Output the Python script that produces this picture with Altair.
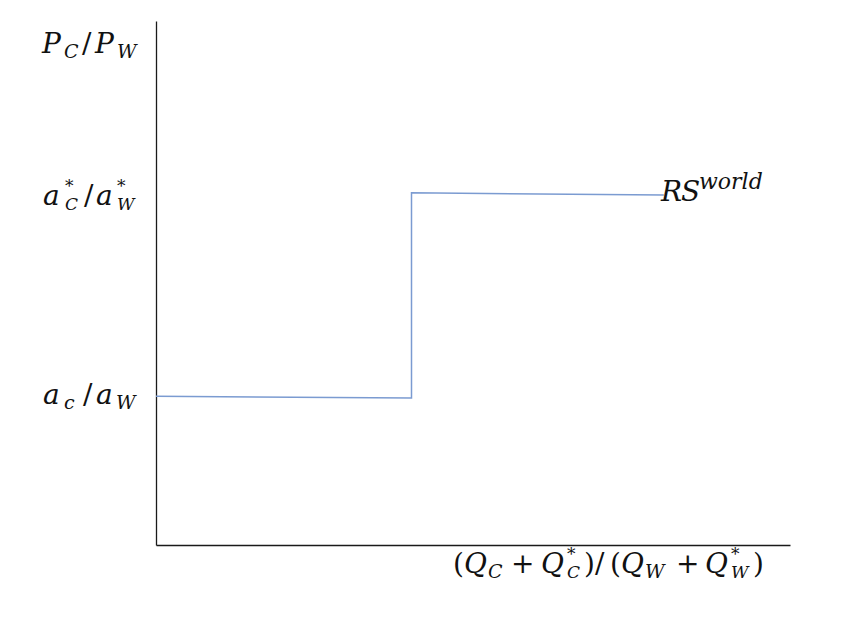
import altair as alt
import pandas as pd

# ---- data ----
step_x = [0.0, 40.3, 40.3, 80.1]
step_y = [28.4, 28.05, 67.2, 66.8]
step_order = [0, 1, 2, 3]

# label texts, split into pieces (text, kind); "both" = starred subscript
label_top = [("P", "main"), ("C", "sub"), ("/", "op"), ("P", "main"), ("W", "sub")]
label_high = [("a", "main"), ("*\nC", "both"), ("/", "op"), ("a", "main"), ("*\nW", "both")]
label_low = [("a", "main"), ("c", "sub"), ("/", "op"), ("a", "main"), ("W", "sub")]
label_rs = [("R", "main"), ("S", "main"), ("world", "sup")]
label_x = [("(", "op"), ("Q", "main"), ("C", "sub"), ("+", "op"), ("Q", "main"), ("*\nC", "both"),
           (")", "op"), ("/", "op"), ("(", "op"), ("Q", "main"), ("W", "sub"), ("+", "op"), ("Q", "main"),
           ("*\nW", "both"), (")", "op")]

# ---- layout (page pixels of each piece's left edge, and label baselines) ----
LEFT, TOP = 156, 21
W, H = 634, 524
FONT = "DejaVu Serif"
MAIN, SMALL, BOTH = 28, 19, 17
LINE_COLOR = "#7b9bd1"

layout = [
    (label_top, [42, 64, 82, 95, 117], 53),
    (label_high, [43, 65, 84, 96, 117], 205),
    (label_low, [43, 64, 83, 96, 116], 404),
    (label_rs, [661, 681, 699], 201),
    (label_x, [453, 464, 488, 511, 541, 567, 584, 595, 610, 621, 645, 676, 705, 731, 753], 573),
]


def piece(text, xp, base, kind):
    size = MAIN if kind in ("main", "op") else SMALL
    if kind == "sup":
        size = 22
    if kind == "both":
        size = BOTH
    style = "normal" if kind == "op" else "italic"
    yp = base
    if kind == "sub":
        yp = base + 5
    elif kind == "both":
        yp = base - 13
    elif kind == "sup":
        yp = base - 12
    return alt.Chart(pd.DataFrame({"t": [text]})).mark_text(
        align="left", baseline="alphabetic", font=FONT, fontSize=size,
        fontStyle=style, color="#111111", lineBreak="\n", lineHeight=18
    ).encode(
        x=alt.value(xp - LEFT), y=alt.value(yp - TOP), text="t:N"
    )


df = pd.DataFrame({"x": step_x, "y": step_y, "o": step_order})

line = alt.Chart(df).mark_line(color=LINE_COLOR, strokeWidth=1.5, interpolate="linear").encode(
    x=alt.X("x:Q", scale=alt.Scale(domain=[0, 100], nice=False, zero=False),
            axis=alt.Axis(title=None, labels=False, ticks=False, grid=False,
                          domainColor="#1a1a1a", domainWidth=1.3)),
    y=alt.Y("y:Q", scale=alt.Scale(domain=[0, 100], nice=False, zero=False),
            axis=alt.Axis(title=None, labels=False, ticks=False, grid=False,
                          domainColor="#1a1a1a", domainWidth=1.3)),
    order="o:Q",
)

texts = []
for pieces, xs, base in layout:
    for (t, kind), xp in zip(pieces, xs):
        texts.append(piece(t, xp, base, kind))

chart = alt.layer(line, *texts).properties(
    width=W, height=H,
    autosize=alt.AutoSizeParams(type="none"),
    padding={"left": LEFT - 8, "top": TOP - 8, "right": 840 - (LEFT - 8) - W, "bottom": 614 - (TOP - 8) - H},
    background="white",
).configure_view(stroke=None)

chart.save("out.html", embed_options={"renderer": "svg", "actions": False})
